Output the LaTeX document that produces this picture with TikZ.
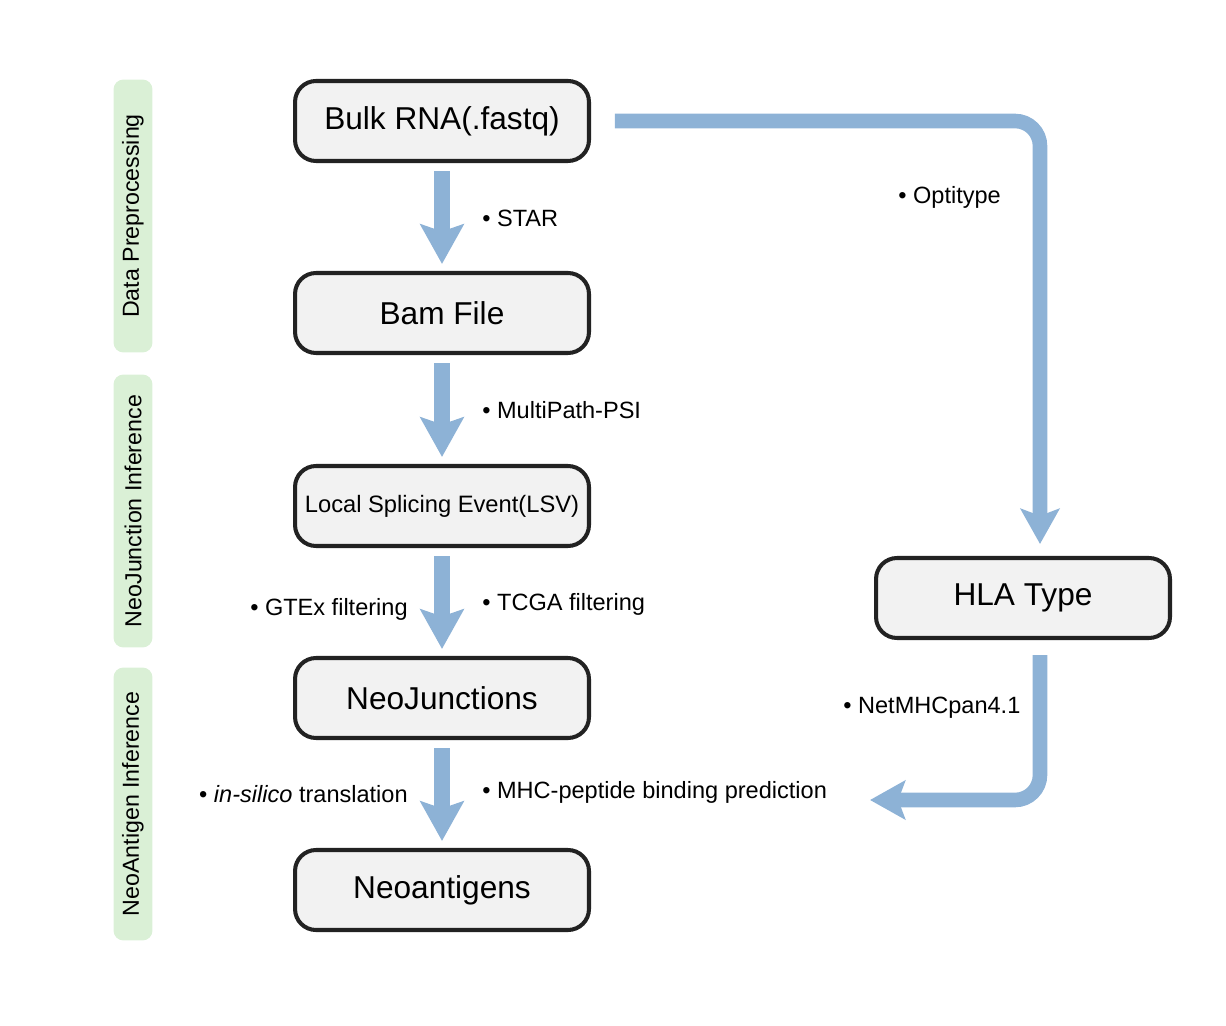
\documentclass[tikz,border=0pt]{standalone}
\usepackage{fontspec}
\setmainfont{Liberation Sans}
\usetikzlibrary{arrows.meta,positioning}
\definecolor{flowblue}{RGB}{141,178,214}
\definecolor{stagegreen}{RGB}{218,240,214}
\definecolor{boxgray}{RGB}{242,242,242}
\definecolor{boxline}{RGB}{34,34,34}

\begin{document}
\begin{tikzpicture}[x=0.02cm,y=-0.02cm,
    box/.style={draw=boxline,line width=2.3pt,fill=boxgray,rounded corners=0.42cm,
      minimum width=5.88cm,minimum height=1.6cm,font=\fontsize{18}{21}\selectfont},
    stage/.style={fill=stagegreen,rounded corners=0.2cm,rotate=90,inner sep=0pt,
      minimum width=5.46cm,minimum height=0.78cm,font=\fontsize{13.2}{15}\selectfont},
    tool/.style={inner sep=0pt,font=\fontsize{13.4}{16}\selectfont},
    down/.style={draw=flowblue,line width=9pt,-{Stealth[length=22.5pt,width=24.5pt,inset=4pt]}},
    route/.style={draw=flowblue,line width=8.3pt,rounded corners=0.5cm,
      -{Stealth[length=20pt,width=22pt,inset=4pt]}}]

        \useasboundingbox (0,0) rectangle (1226,1026);

        % stages
        \node[stage] (prep) at (133,216) {Data Preprocessing};
        \node[stage] (junc) at (133,511) {NeoJunction Inference};
        \node[stage] (anti) at (133,804) {NeoAntigen Inference};

        % pipeline boxes
        \node[box] (bulk) at (442,121) {Bulk RNA(.fastq)};
        \node[box] (bam)  at (442,313) {Bam File};
        \node[box,font=\fontsize{13.5}{16}\selectfont] (lsv) at (442,506) {Local Splicing Event(LSV)};
        \node[box] (neoj) at (442,698) {NeoJunctions};
        \node[box] (neoa) at (442,890) {Neoantigens};
        \node[box] (hla)  at (1023,598) {HLA Type};

        \coordinate (bind) at (870,800);

        % flows
        \draw[down] ([yshift=-0.16cm]bulk.south) -- ([yshift=0.14cm]bam.north);
        \draw[down] ([yshift=-0.16cm]bam.south) -- ([yshift=0.14cm]lsv.north);
        \draw[down] ([yshift=-0.16cm]lsv.south) -- ([yshift=0.14cm]neoj.north);
        \draw[down] ([yshift=-0.16cm]neoj.south) -- ([yshift=0.14cm]neoa.north);
        \draw[route] ([xshift=0.48cm]bulk.east) -| ([xshift=0.34cm,yshift=0.24cm]hla.north);
        \draw[route] ([xshift=0.34cm,yshift=-0.3cm]hla.south) |- (bind);

        % tools
        \begin{scope}[every node/.style={tool}]
          \node[anchor=west] (star)  at (482,218) {• STAR};
          \node[anchor=west] (opti)  at (898,197) {• Optitype};
          \node[anchor=west] (mpsi)  at (482,410) {• MultiPath-PSI};
          \node[anchor=east] (gtex)  at (408,609) {• GTEx filtering};
          \node[anchor=west] (tcga)  at (482,604) {• TCGA filtering};
          \node[anchor=west] (netm)  at (843,708) {• NetMHCpan4.1};
          \node[anchor=east] (trans) at (408,794) {• \textit{in-silico} translation};
          \node[anchor=west] (mhc)   at (482,792) {• MHC-peptide binding prediction};
        \end{scope}

\end{tikzpicture}
\end{document}
